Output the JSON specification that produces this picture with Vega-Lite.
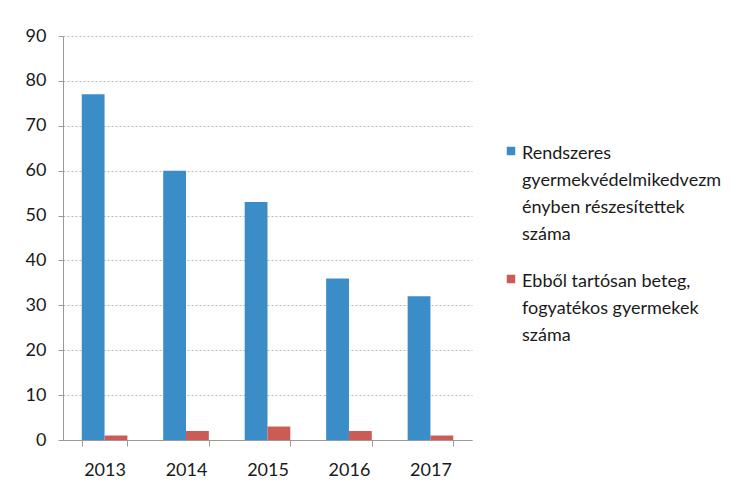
{
  "$schema": "https://vega.github.io/schema/vega-lite/v6.json",
  "width": 409,
  "height": 404,
  "autosize": {"type": "none"},
  "padding": {"left": 63, "top": 36, "right": 272, "bottom": 48},
  "background": "#ffffff",
  "config": {
    "view": {"stroke": null},
    "font": "Lato"
  },
  "data": {
    "values": [
      {"year": "2013", "series": "Rendszeres gyermekvédelmikedvezményben részesítettek száma", "value": 77},
      {"year": "2014", "series": "Rendszeres gyermekvédelmikedvezményben részesítettek száma", "value": 60},
      {"year": "2015", "series": "Rendszeres gyermekvédelmikedvezményben részesítettek száma", "value": 53},
      {"year": "2016", "series": "Rendszeres gyermekvédelmikedvezményben részesítettek száma", "value": 36},
      {"year": "2017", "series": "Rendszeres gyermekvédelmikedvezményben részesítettek száma", "value": 32},
      {"year": "2013", "series": "Ebből tartósan beteg, fogyatékos gyermekek száma", "value": 1},
      {"year": "2014", "series": "Ebből tartósan beteg, fogyatékos gyermekek száma", "value": 2},
      {"year": "2015", "series": "Ebből tartósan beteg, fogyatékos gyermekek száma", "value": 3},
      {"year": "2016", "series": "Ebből tartósan beteg, fogyatékos gyermekek száma", "value": 2},
      {"year": "2017", "series": "Ebből tartósan beteg, fogyatékos gyermekek száma", "value": 1}
    ]
  },
  "mark": {"type": "bar"},
  "encoding": {
    "x": {
      "field": "year",
      "type": "nominal",
      "scale": {"paddingInner": 0.44, "paddingOuter": 0.23},
      "axis": {
        "title": null,
        "labelAngle": 0,
        "labelFontSize": 18,
        "labelColor": "#1a1a1a",
        "labelPadding": 15,
        "tickBand": "extent",
        "tickSize": 6,
        "tickColor": "#9a9a9a",
        "domainColor": "#9a9a9a",
        "grid": false
      }
    },
    "xOffset": {
      "field": "series",
      "type": "nominal",
      "scale": {"domain": ["Rendszeres gyermekvédelmikedvezményben részesítettek száma", "Ebből tartósan beteg, fogyatékos gyermekek száma"], "paddingInner": 0, "paddingOuter": 0}
    },
    "y": {
      "field": "value",
      "type": "quantitative",
      "scale": {"domain": [0, 90]},
      "axis": {
        "title": null,
        "values": [0, 10, 20, 30, 40, 50, 60, 70, 80, 90],
        "labelFontSize": 18,
        "labelColor": "#1a1a1a",
        "labelPadding": 12,
        "tickSize": 5,
        "tickColor": "#9a9a9a",
        "domainColor": "#9a9a9a",
        "gridColor": "#a8a8a8",
        "gridDash": [2, 2],
        "gridOpacity": 0.8
      }
    },
    "color": {
      "field": "series",
      "type": "nominal",
      "scale": {
        "domain": ["Rendszeres gyermekvédelmikedvezményben részesítettek száma", "Ebből tartósan beteg, fogyatékos gyermekek száma"],
        "range": ["#3a8dc6", "#cc5a55"]
      },
      "legend": {
        "title": null,
        "orient": "none",
        "legendX": 439,
        "legendY": 106,
        "symbolType": "square",
        "symbolSize": 72,
        "symbolStrokeWidth": 0,
        "symbolOpacity": 1,
        "labelFontSize": 18,
        "labelColor": "#1a1a1a",
        "labelLimit": 400,
        "labelOffset": 2,
        "labelBaseline": "top",
        "rowPadding": 26,
        "labelExpr": "datum.label == 'Rendszeres gyermekvédelmikedvezményben részesítettek száma' ? ['Rendszeres', 'gyermekvédelmikedvezm', 'ényben részesítettek', 'száma'] : ['Ebből tartósan beteg,', 'fogyatékos gyermekek', 'száma']",
        "encode": {"labels": {"update": {"lineHeight": {"value": 27}, "dy": {"value": -6}}}}
      }
    }
  }
}
